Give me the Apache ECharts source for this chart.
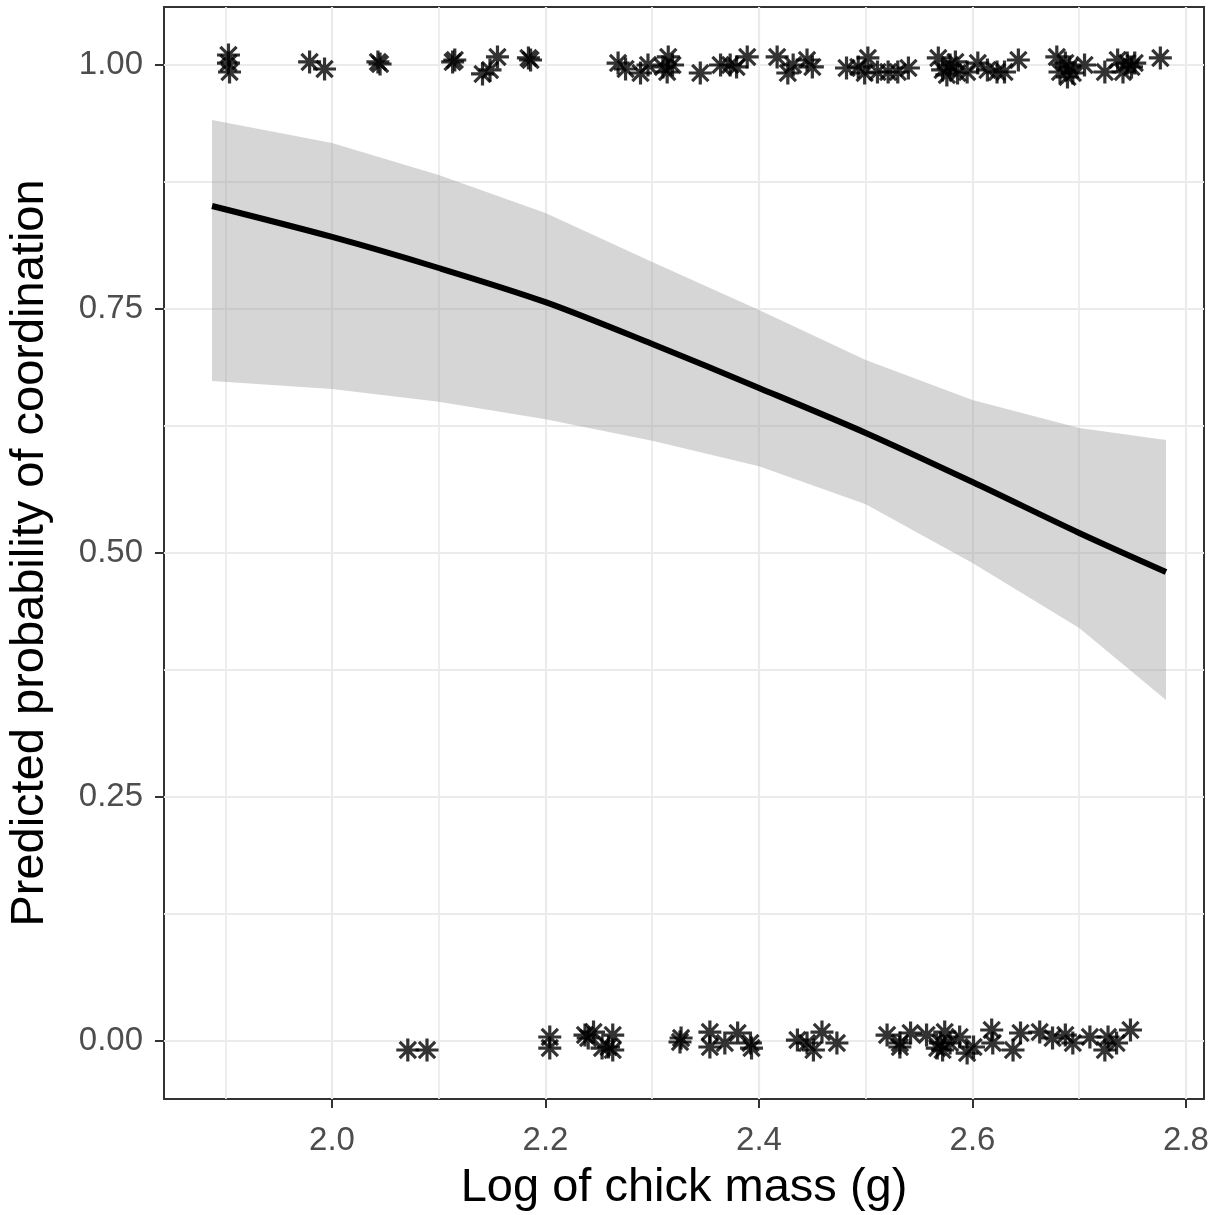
<!DOCTYPE html>
<html><head><meta charset="utf-8">
<script src="https://cdn.jsdelivr.net/npm/echarts@6/dist/echarts.min.js"></script>
<style>html,body{margin:0;padding:0;background:#fff}#c{width:1222px;height:1215px}</style>
</head><body><div id="c"></div>
<script>
// ---- data ----
const xTicks = [2.0, 2.2, 2.4, 2.6, 2.8];
const xMinor = [1.9, 2.1, 2.3, 2.5, 2.7];
const yTicks = [0, 0.25, 0.5, 0.75, 1.0];
const yMinor = [0.125, 0.375, 0.625, 0.875];

const fitX   = [1.8876, 2.0, 2.1, 2.2, 2.3, 2.4, 2.5, 2.6, 2.7, 2.7813];
const fitP   = [0.8555, 0.8238, 0.7920, 0.7570, 0.7141, 0.6691, 0.6230, 0.5727, 0.5205, 0.4805];
const ciUpper = [0.9436, 0.9201, 0.8873, 0.8484, 0.7982, 0.7490, 0.6977, 0.6568, 0.6281, 0.6158];
const ciLower = [0.6762, 0.6680, 0.6550, 0.6370, 0.6150, 0.5890, 0.5500, 0.4898, 0.4232, 0.3494];

const coordinated = [
  [1.903,1.0102],[1.903,1.002],[1.904,0.9928],
  [1.979,1.0031],[1.993,0.9959],
  [2.043,1.0031],[2.045,1.001],
  [2.113,1.0031],[2.115,1.0051],
  [2.141,0.9908],[2.148,0.9949],[2.155,1.0082],
  [2.184,1.0072],[2.186,1.0051],
  [2.268,1.002],[2.275,0.9959],[2.289,0.9918],[2.296,1.0],[2.310,0.998],[2.315,1.0082],[2.314,0.9928],[2.319,1.0],
  [2.345,0.9918],
  [2.364,1.0],[2.373,1.0],[2.379,0.998],[2.389,1.0082],
  [2.417,1.0082],[2.427,0.9918],[2.432,1.0],[2.445,1.0051],[2.450,0.998],
  [2.482,0.9969],[2.493,0.998],
  [2.499,0.9918],[2.502,1.0072],[2.511,0.9928],[2.521,0.9928],[2.530,0.9928],[2.540,0.9969],
  [2.568,1.0072],[2.572,0.9949],[2.576,0.9898],[2.579,1.0],[2.584,1.0031],[2.586,0.9918],[2.595,0.9928],
  [2.605,1.002],[2.614,0.9949],[2.623,0.9928],[2.630,0.9928],[2.643,1.0051],
  [2.679,1.0082],[2.682,0.9928],[2.687,1.002],[2.689,0.9877],[2.691,0.998],[2.694,0.9918],[2.705,1.0],
  [2.724,0.9928],[2.736,1.0051],[2.741,0.9928],[2.745,1.002],[2.749,0.998],[2.752,1.002],
  [2.776,1.0072]
];
const notCoordinated = [
  [2.071,-0.0092],[2.089,-0.0092],
  [2.204,0.0041],[2.204,-0.0072],
  [2.237,0.0061],[2.240,0.0031],[2.245,0.0092],[2.253,-0.0072],[2.259,-0.0061],[2.263,0.0061],[2.263,-0.0092],
  [2.326,-0.001],[2.327,0.0031],
  [2.354,0.0092],[2.354,-0.0061],[2.368,-0.002],[2.380,0.0082],[2.392,-0.002],[2.393,-0.0072],
  [2.436,0.001],[2.445,-0.002],[2.451,-0.0092],[2.459,0.0092],[2.473,-0.002],
  [2.520,0.0061],[2.532,-0.002],[2.532,-0.0061],[2.542,0.0082],[2.557,0.0061],[2.567,-0.0072],
  [2.570,-0.002],[2.572,-0.0092],[2.574,0.0092],[2.579,-0.002],[2.588,0.0041],[2.595,-0.0123],[2.601,-0.0061],
  [2.618,0.0113],[2.619,-0.002],
  [2.638,-0.0092],[2.645,0.0082],[2.663,0.0092],[2.675,0.0031],[2.687,0.0061],[2.694,-0.002],
  [2.710,0.0041],[2.724,-0.0092],[2.727,0.0041],[2.735,-0.002],[2.748,0.0113]
];

// ---- chart ----
const chart = echarts.init(document.getElementById('c'), null, {renderer: 'canvas'});
const FONT = 'Liberation Sans, Arial, Helvetica, sans-serif';
const asterisk = 'path://M0,-10L0,10M-10,0L10,0M-7.07,-7.07L7.07,7.07M-7.07,7.07L7.07,-7.07';

const gridLines = [];
xTicks.forEach(v => gridLines.push({xAxis: v, lineStyle: {width: 2.2}}));
xMinor.forEach(v => gridLines.push({xAxis: v, lineStyle: {width: 1.8}}));
yTicks.forEach(v => gridLines.push({yAxis: v, lineStyle: {width: 2.2}}));
yMinor.forEach(v => gridLines.push({yAxis: v, lineStyle: {width: 1.8}}));

chart.setOption({
  animation: false,
  backgroundColor: '#ffffff',
  grid: {left: 164, right: 18, top: 7, bottom: 116, show: true, containLabel: false,
         outerBoundsMode: 'none',
         borderColor: '#333333', borderWidth: 2, backgroundColor: '#ffffff'},
  xAxis: {
    type: 'value', min: 1.8426, max: 2.8169,
    splitLine: {show: false},
    axisLine: {show: false, onZero: false},
    axisTick: {show: true, length: 9, customValues: xTicks, lineStyle: {color: '#333333', width: 2}},
    axisLabel: {customValues: xTicks, formatter: v => v.toFixed(1), fontSize: 33, color: '#4D4D4D',
                margin: 25, fontFamily: FONT},
    name: 'Log of chick mass (g)', nameLocation: 'middle', nameGap: 66,
    nameTextStyle: {fontSize: 47, color: '#000000', fontFamily: FONT}
  },
  yAxis: {
    type: 'value', min: -0.0594, max: 1.0594,
    splitLine: {show: false},
    axisLine: {show: false, onZero: false},
    axisTick: {show: true, length: 9, customValues: yTicks, lineStyle: {color: '#333333', width: 2}},
    axisLabel: {customValues: yTicks, formatter: v => v.toFixed(2), fontSize: 33, color: '#4D4D4D',
                margin: 21, fontFamily: FONT},
    name: 'Predicted probability of coordination', nameLocation: 'middle', nameGap: 110, nameRotate: 90,
    nameTextStyle: {fontSize: 47, color: '#000000', fontFamily: FONT}
  },
  series: [
    {
      type: 'line', data: [], silent: true, z: 1,
      markLine: {
        silent: true, z: 1, symbol: ['none', 'none'], label: {show: false},
        lineStyle: {color: '#EBEBEB', type: 'solid'}, emphasis: {disabled: true},
        data: gridLines
      }
    },
    {
      type: 'custom', z: 2, silent: true,
      data: fitX.map((x, i) => [x, ciLower[i], ciUpper[i]]),
      encode: {x: 0, y: [1, 2]},
      renderItem: function (params, api) {
        if (params.dataIndex !== 0) return null;
        const pts = [];
        for (let i = 0; i < fitX.length; i++) pts.push(api.coord([fitX[i], ciUpper[i]]));
        for (let i = fitX.length - 1; i >= 0; i--) pts.push(api.coord([fitX[i], ciLower[i]]));
        return {type: 'polygon', shape: {points: pts}, style: {fill: 'rgba(153,153,153,0.4)'}};
      }
    },
    {
      type: 'line', z: 3, silent: true, smooth: 0.3, showSymbol: false, symbol: 'none',
      data: fitX.map((x, i) => [x, fitP[i]]),
      lineStyle: {color: '#000000', width: 6}
    },
    {
      type: 'scatter', z: 4, silent: true, data: coordinated,
      symbol: asterisk, symbolSize: 23,
      itemStyle: {color: 'rgba(0,0,0,0)', borderColor: '#000000', borderWidth: 3.2}
    },
    {
      type: 'scatter', z: 4, silent: true, data: notCoordinated,
      symbol: asterisk, symbolSize: 23,
      itemStyle: {color: 'rgba(0,0,0,0)', borderColor: '#000000', borderWidth: 3.2}
    }
  ]
});
</script></body></html>
